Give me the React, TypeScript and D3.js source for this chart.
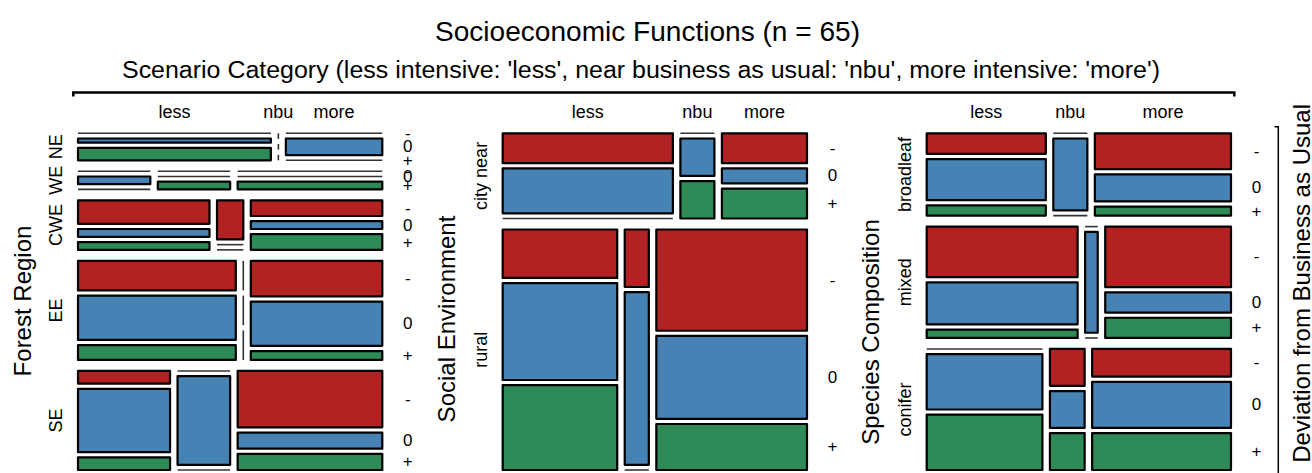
import React from 'react';
import * as d3 from 'd3';

// scenario categories (columns) and deviation classes (stacked inside each cell)
const scenarios = ['less', 'nbu', 'more'];
const deviations = ['-', '0', '+'];
const devColors = ['#B22222', '#4682B4', '#2E8B57'];

// counts[row][scenario][deviation]
const regionLevels = ['NE', 'WE', 'CWE', 'EE', 'SE'];
const regionCounts = [
  [[0, 1, 3], [0, 0, 0], [0, 2, 0]],
  [[0, 1, 0], [0, 0, 1], [0, 0, 2]],
  [[3, 1, 1], [1, 0, 0], [2, 1, 2]],
  [[4, 6, 2], [0, 0, 0], [4, 5, 1]],
  [[1, 5, 1], [0, 4, 0], [7, 2, 2]],
];

const socialLevels = ['city near', 'rural'];
const socialCounts = [
  [[4, 6, 0], [0, 1, 1], [2, 1, 2]],
  [[4, 8, 7], [1, 3, 0], [11, 9, 5]],
];

const speciesLevels = ['broadleaf', 'mixed', 'conifer'];
const speciesCounts = [
  [[2, 4, 1], [0, 2, 0], [4, 3, 1]],
  [[6, 5, 1], [0, 1, 0], [6, 2, 2]],
  [[0, 5, 5], [1, 1, 1], [3, 5, 4]],
];

const panels = [
  { title: 'Forest Region', levels: regionLevels, counts: regionCounts, x0: 78, titleY: 301 },
  { title: 'Social Environment', levels: socialLevels, counts: socialCounts, x0: 502.7, titleY: 319 },
  { title: 'Species Composition', levels: speciesLevels, counts: speciesCounts, x0: 926.7, titleY: 332 },
];

const W = 1312, H = 473;
const font = "'Liberation Sans', Arial, Helvetica, sans-serif";
const panelW = 304.3;
const top = 133.3, bottom = 470;
const rowGap = 11, colGap = 7.5, devGap = 5.2;

type Cell = { x: number; y: number; w: number; h: number; k: number; v: number; row: number; col: number };

function layout(counts: number[][][], x0: number) {
  const rowTotals = counts.map(r => d3.sum(r.flat()));
  const y = d3.scaleLinear()
    .domain([0, d3.sum(rowTotals)])
    .range([0, bottom - top - rowGap * (counts.length - 1)]);
  const cells: Cell[] = [];
  const rows: { y: number; h: number }[] = [];
  let yy = top;
  counts.forEach((r, i) => {
    const rh = y(rowTotals[i]);
    rows.push({ y: yy, h: rh });
    const colTotals = r.map(c => d3.sum(c));
    const x = d3.scaleLinear().domain([0, rowTotals[i]]).range([0, panelW - colGap * (r.length - 1)]);
    let xx = x0;
    r.forEach((c, j) => {
      const cw = x(colTotals[j]);
      const vals = colTotals[j] ? c : c.map(() => 1);
      const dy = d3.scaleLinear().domain([0, d3.sum(vals)]).range([0, rh - devGap * (c.length - 1)]);
      let cy = yy;
      c.forEach((v, k) => {
        const ch = dy(vals[k]);
        cells.push({ x: xx, y: cy, w: cw, h: ch, k, v, row: i, col: j });
        cy += ch + devGap;
      });
      xx += cw + colGap;
    });
    yy += rh + rowGap;
  });
  return { cells, rows };
}

const Panel = ({ p }: { p: typeof panels[number] }) => {
  const { cells, rows } = layout(p.counts, p.x0);
  const firstRow = cells.filter(c => c.row === 0 && c.k === 0);
  const lastCol = cells.filter(c => c.col === scenarios.length - 1);
  return (
    <g>
      {cells.map((c, i) => {
        if (c.w === 0) {
          return <line key={i} x1={c.x} x2={c.x} y1={c.y} y2={c.y + c.h} stroke="#333" strokeWidth={1.6} />;
        }
        if (c.v === 0) {
          return <line key={i} x1={c.x} x2={c.x + c.w} y1={c.y} y2={c.y} stroke="#333" strokeWidth={1.6} />;
        }
        return (
          <rect key={i} x={c.x} y={c.y} width={c.w} height={c.h}
            fill={devColors[c.k]} stroke="#000" strokeWidth={2.2} strokeLinejoin="round" />
        );
      })}
      {firstRow.map((c, i) => (
        <text key={'t' + i} x={c.x + c.w / 2} y={117.5} textAnchor="middle" fontSize={18}>{scenarios[c.col]}</text>
      ))}
      {rows.map((r, i) => (
        <text key={'l' + i} transform={`translate(${p.x0 - 22},${r.y + r.h / 2}) rotate(-90)`}
          textAnchor="middle" dominantBaseline="central" fontSize={18}>{p.levels[i]}</text>
      ))}
      {lastCol.map((c, i) => (
        <text key={'r' + i} x={p.x0 + panelW + 25.5} y={c.y + c.h / 2} textAnchor="middle"
          dominantBaseline="central" fontSize={17}>{deviations[c.k]}</text>
      ))}
      <text transform={`translate(${p.x0 - 56},${p.titleY}) rotate(-90)`} textAnchor="middle"
        dominantBaseline="central" fontSize={24}>{p.title}</text>
    </g>
  );
};

export default function App() {
  return (
    <svg width={W} height={H} style={{ position: 'fixed', left: 0, top: 0, background: '#fff' }} fontFamily={font}>
      <rect width={W} height={H} fill="#fff" />
      <text x={647.5} y={41} textAnchor="middle" fontSize={27} textLength={425} lengthAdjust="spacingAndGlyphs">
        Socioeconomic Functions (n = 65)
      </text>
      <text x={641} y={78} textAnchor="middle" fontSize={23} textLength={1038} lengthAdjust="spacingAndGlyphs">
        Scenario Category (less intensive: 'less', near business as usual: 'nbu', more intensive: 'more')
      </text>
      <path d="M73.3,96.5V92.5H1234.3V96.5" fill="none" stroke="#000" strokeWidth={2.5} />
      <path d="M1274.5,126.7H1278.3V473" fill="none" stroke="#000" strokeWidth={1.5} />
      <text transform="translate(1301.5,104) rotate(-90)" textAnchor="end" dominantBaseline="central" fontSize={24}>
        Deviation from Business as Usual
      </text>
      {panels.map(p => <Panel key={p.title} p={p} />)}
    </svg>
  );
}
